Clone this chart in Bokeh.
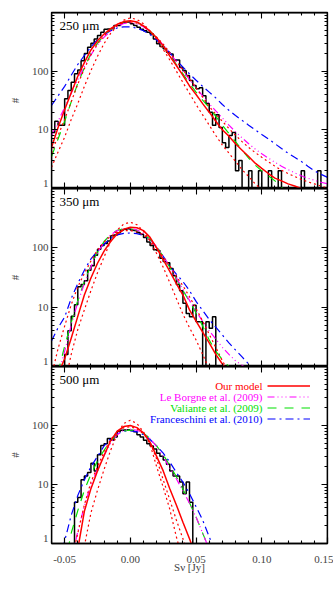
from bokeh.plotting import figure
from bokeh.models import (LinearAxis, LogAxis, FixedTicker, Range1d, Label,
                          Legend, LegendItem)
from bokeh.layouts import column
from bokeh.embed import file_html
from bokeh.resources import INLINE

N = float("nan")

# ---------------- data ----------------
x_major = [-0.05, 0.0, 0.05, 0.10, 0.15]
x_major_labels = ["-0.05", "0.00", "0.05", "0.10", "0.15"]
x_minor = [-0.06, -0.04, -0.03, -0.02, -0.01, 0.01, 0.02, 0.03, 0.04,
           0.06, 0.07, 0.08, 0.09, 0.11, 0.12, 0.13, 0.14]
x_title = "S\u03bd [Jy]"
y_major = [1, 10, 100, 1000]
y_minor = [2, 3, 4, 5, 6, 7, 8, 9, 20, 30, 40, 50, 60, 70, 80, 90,
           200, 300, 400, 500, 600, 700, 800, 900]
# label anchors on the y axis: the "1" label sits just above the panel edge
y_label_pos = [1.2, 10, 100]
y_label_txt = ["1", "10", "100"]
y_title = "#"

bin_width = 0.0025

# 250 micron histogram (first bin edge -0.06)
hist_250_start = -0.06
hist_250 = [9, 14, 12, 12, 34, 47, 65, 90, 105, 150, 200, 255, 300, 355, 405, 460,
            520, 525, 530, 600, 600, 665, 680, 690, 640, 600, 560, 520, 490, 460,
            430, 355, 292, 263, 240, 210, 196, 155, 155, 117, 102, 84, 69, 57, 50,
            52, 38, 28, 20, 12, 18, 11, 6, 5, 8, 9, 2, 3, 1, 1, 2, 1, 1, 2, 1, 1,
            2, 1, 1, 2, 1, 1, 1, 1, 1, 1, 2, 1, 1, 1, 1, 2, 1, 1]
# 350 micron histogram (first bin edge -0.055)
hist_350_start = -0.055
hist_350 = [1, 1, 1.6, 4, 7, 11, 22, 24, 28, 42, 50, 75, 95, 110, 118, 130, 160, 165,
            180, 200, 205, 210, 200, 195, 180, 170, 150, 125, 110, 93, 90, 67, 59,
            56, 45, 34, 24, 19, 11.6, 7.8, 6.9, 10.8, 5.7, 5.7, 0.5, 5.7, 4.4, 6.9, 0.5]
# 500 micron histogram (first bin edge -0.045)
hist_500_start = -0.045
hist_500 = [0.5, 5, 6, 12, 14, 16, 23, 17, 32, 46, 49, 60, 56, 64, 80, 83, 84, 85,
            82, 78, 70, 64, 56, 49, 45, 40, 34, 30, 26, 22, 17, 14, 14, 11, 7, 11,
            5, 0.5]

# sampling positions of the model curves [Jy]
s_grid = [-0.060, -0.055, -0.050, -0.045, -0.040, -0.035, -0.030, -0.025, -0.020,
          -0.015, -0.010, -0.005, 0.000, 0.005, 0.010, 0.015, 0.020, 0.025, 0.030,
          0.035, 0.040, 0.045, 0.050, 0.055, 0.060, 0.065, 0.070, 0.075, 0.080,
          0.085, 0.090, 0.095, 0.100, 0.105, 0.110, 0.115, 0.120, 0.125, 0.130,
          0.135, 0.140, 0.145, 0.150]

# 250 micron curves
model_250 = [5, 11, 22, 43, 82, 140, 230, 330, 430, 530, 630, 700, 725, 690, 590, 480,
             370, 270, 180, 125, 85, 56, 40, 28, 20, 14, 10, 7.8, 5.8, 4.5, 3.5, 2.7,
             2.2, 1.8, 1.5, 1.35, 1.2, 1.1, 1.0, 0.9, 0.85, N, N]
model_lo_250 = [2.3, 4.2, 7.5, 15, 28, 55, 102, 180, 295, 440, 600, 740, 810, 760, 640,
                480, 350, 235, 155, 100, 64, 42, 27, 18, 12, 8, 5.5, 4.0, 2.9, 2.1, 1.6,
                1.2, 0.95, 0.75, N, N, N, N, N, N, N, N, N]
model_hi_250 = [4, 8, 15, 30, 60, 110, 190, 290, 400, 510, 610, 670, 690, 660, 580, 480,
                380, 290, 205, 148, 105, 75, 52, 36, 25, 18.5, 14, 10.5, 8.1, 6.3, 5.0,
                4.1, 3.4, 2.85, 2.4, 2.05, 1.8, 1.6, 1.43, 1.3, 1.2, 1.1, 1.03]
leborgne_250 = [8, 14, 24, 42, 72, 120, 190, 280, 380, 480, 580, 650, 670, 640, 570,
                470, 370, 280, 205, 145, 102, 72, 52, 38, 28, 21, 16, 12, 9.3, 7.3, 5.8,
                4.7, 3.9, 3.3, 2.8, 2.4, 2.1, 1.85, 1.65, 1.5, 1.38, 1.28, 1.2]
valiante_250 = [3.5, 7, 14, 30, 62, 115, 200, 300, 410, 520, 620, 690, 710, 680, 590,
                480, 370, 270, 190, 130, 90, 62, 44, 32, 24, 17, 12, 8.7, 6.3, 4.5, 3.3,
                2.5, 2.0, 1.65, 1.35, 1.05, 0.85, N, N, N, N, N, N]
franceschini_250 = [26, 38, 55, 85, 130, 185, 260, 345, 420, 490, 545, 570, 570, 540,
                    490, 420, 340, 270, 205, 155, 117, 90, 70, 55, 44, 35, 27, 21.5,
                    17.5, 14.5, 12, 10, 8.3, 7, 5.8, 4.8, 4.0, 3.4, 2.9, 2.4, 2.0, 1.75,
                    1.55]

# 350 micron curves
model_350 = [0.4, 0.75, 1.35, 3.0, 7.0, 16, 31, 55, 88, 128, 172, 205, 222, 218, 195,
             150, 100, 63, 40, 25, 16, 9, 5.8, 3.8, 2.5, 1.6, 1.1, 0.8, N, N, N, N, N,
             N, N, N, N, N, N, N, N, N, N]
model_lo_350 = [N, N, 0.5, 1.6, 4.2, 9, 19, 38, 70, 130, 200, 252, 270, 245, 190, 130,
                80, 47, 26, 14, 7.6, 4.5, 2.8, 1.6, 0.9, 0.5, N, N, N, N, N, N, N, N, N,
                N, N, N, N, N, N, N, N]
model_hi_350 = [0.7, 2.0, 4.8, 11, 22, 37, 60, 92, 125, 158, 182, 194, 195, 185, 165,
                135, 100, 70, 50, 33, 23, 15, 9.5, 5.8, 3.5, 2.1, 1.25, 0.8, N, N, N, N,
                N, N, N, N, N, N, N, N, N, N, N]
leborgne_350 = [N, 0.7, 1.8, 5, 12, 25, 48, 82, 125, 165, 195, 210, 212, 200, 175, 140,
                105, 72, 48, 31, 20, 13, 8.5, 5.8, 4.0, 2.9, 2.1, 1.6, 1.25, 1.05, 0.9,
                N, N, N, N, N, N, N, N, N, N, N, N]
valiante_350 = [N, 0.8, 2.2, 5.5, 13, 27, 50, 85, 128, 168, 197, 210, 210, 198, 172,
                140, 103, 72, 47, 30, 19, 12.5, 8, 4.8, 2.8, 1.8, 1.3, 1.0, 0.8, N, N, N,
                N, N, N, N, N, N, N, N, N, N, N]
franceschini_350 = [2.7, 4.5, 6.8, 14, 25, 42, 65, 88, 115, 145, 165, 175, 178, 173,
                    162, 140, 100, 72, 49, 36, 27, 19, 12.5, 8.8, 6.2, 4.6, 3.4, 2.5,
                    1.9, 1.45, 1.1, 0.85, N, N, N, N, N, N, N, N, N, N, N]

# 500 micron curves
model_500 = [N, N, N, N, 0.8, 3.5, 8.5, 17, 31, 55, 80, 96, 100, 92, 75, 52, 30, 17,
             8.5, 4.5, 2.3, 1.2, 0.6, N, N, N, N, N, N, N, N, N, N, N, N, N, N, N, N,
             N, N, N, N]
model_lo_500 = [N, N, N, N, N, 0.9, 3.3, 8, 18, 38, 72, 108, 123, 108, 78, 48, 20, 9,
                3.8, 1.3, 0.5, N, N, N, N, N, N, N, N, N, N, N, N, N, N, N, N, N, N, N,
                N, N, N]
model_hi_500 = [N, N, N, 0.5, 1.5, 4.5, 11, 20, 36, 58, 78, 92, 95, 88, 72, 52, 27, 12,
                5.5, 2.5, 1.2, 0.6, N, N, N, N, N, N, N, N, N, N, N, N, N, N, N, N, N,
                N, N, N, N]
leborgne_500 = [N, N, N, 0.5, 1.6, 4.3, 10, 18, 31, 50, 70, 83, 86, 83, 75, 60, 44, 30,
                19, 12.5, 7.8, 4.8, 2.8, 1.5, 0.8, N, N, N, N, N, N, N, N, N, N, N, N,
                N, N, N, N, N, N]
valiante_500 = [N, N, 0.4, 1.5, 3.6, 8, 15, 25, 38, 55, 71, 81, 84, 82, 74, 60, 45, 32,
                21, 13.5, 8.3, 4.9, 2.8, 1.5, 0.8, N, N, N, N, N, N, N, N, N, N, N, N,
                N, N, N, N, N, N]
franceschini_500 = [N, 0.4, 1.1, 3, 6.5, 12, 20, 30, 45, 60, 72, 80, 82, 78, 70, 58,
                    45, 34, 24, 16, 11, 7, 4.2, 2.5, 1.3, 0.7, N, N, N, N, N, N, N, N,
                    N, N, N, N, N, N, N, N, N]

legend_labels = ["Our model", "Le Borgne et al. (2009)", "Valiante et al. (2009)",
                 "Franceschini et al. (2010)"]
panel_labels = ["250 \u03bcm", "350 \u03bcm", "500 \u03bcm"]

# ---------------- style ----------------
FONT = "Liberation Serif"
RED = "#ff0000"
MAGENTA = "#ff00ff"
GREEN = "#00e000"
BLUE = "#0000ff"
FRAME_W = 276
LEFT = 51
X0, X1 = -0.06, 0.15
Y0, Y1 = 1, 1000


def tick_style(ax, major_len, minor_len):
    ax.major_tick_in = major_len
    ax.major_tick_out = 0
    ax.minor_tick_in = minor_len
    ax.minor_tick_out = 0
    ax.axis_line_width = 1.3
    ax.major_tick_line_width = 1.2
    ax.minor_tick_line_width = 1.1
    ax.major_label_text_font = FONT
    ax.major_label_text_font_size = "11px"


def bare_ticks(p, cls, side, loc, major_pos, minor_pos):
    # unlabelled tick marks on a frame side (fixed location -> no extra space)
    for pos, length in ((major_pos, 6), (minor_pos, 3)):
        ax = cls(ticker=FixedTicker(ticks=[], minor_ticks=pos), fixed_location=loc)
        tick_style(ax, 0, length)
        p.add_layout(ax, side)


def make_panel(frame_h, top, bottom, hist_start, hist, curves, label, show_x):
    p = figure(frame_width=FRAME_W, frame_height=frame_h,
               x_range=Range1d(X0, X1), y_range=Range1d(Y0, Y1),
               y_axis_type="log", x_axis_location=None, y_axis_location=None,
               output_backend="svg", toolbar_location=None,
               min_border_left=LEFT, min_border_right=6,
               min_border_top=top, min_border_bottom=bottom)
    p.grid.visible = False
    p.outline_line_color = "black"
    p.outline_line_width = 1.3
    p.background_fill_color = "white"
    p.border_fill_color = "white"

    # left axis: labels only (tick marks are drawn by the bare axes)
    ly = LogAxis(ticker=FixedTicker(ticks=y_label_pos, minor_ticks=[]))
    tick_style(ly, 0, 0)
    ly.axis_line_color = None
    ly.major_tick_line_color = None
    ly.major_label_overrides = dict(zip(y_label_pos, y_label_txt))
    ly.major_label_standoff = 3
    ly.axis_label = y_title
    ly.axis_label_text_font = FONT
    ly.axis_label_text_font_style = "normal"
    ly.axis_label_text_font_size = "11px"
    ly.axis_label_standoff = 8
    p.add_layout(ly, "left")

    bare_ticks(p, LogAxis, "left", X0, y_major, y_minor)
    bare_ticks(p, LogAxis, "right", X1, y_major, y_minor)
    bare_ticks(p, LinearAxis, "above", Y1, x_major, x_minor)
    if show_x:
        bx = LinearAxis(ticker=FixedTicker(ticks=x_major, minor_ticks=x_minor))
        tick_style(bx, 6, 3)
        bx.major_label_overrides = dict(zip(x_major, x_major_labels))
        bx.major_label_standoff = 12
        bx.axis_label = x_title
        bx.axis_label_text_font = FONT
        bx.axis_label_text_font_style = "normal"
        bx.axis_label_text_font_size = "11px"
        bx.axis_label_standoff = -5
        p.add_layout(bx, "below")
    else:
        bare_ticks(p, LinearAxis, "below", Y0, x_major, x_minor)

    edges = [hist_start + i * bin_width for i in range(len(hist) + 1)]
    p.step(x=edges, y=list(hist) + [hist[-1]], mode="after",
           line_color="black", line_width=1.5)

    m, lo, hi, lb, va, fr = curves
    r_fr = p.line(s_grid, fr, line_color=BLUE, line_width=1.2, line_dash="8 4 2 4")
    r_va = p.line(s_grid, va, line_color=GREEN, line_width=1.2, line_dash="9 8")
    r_lb = p.line(s_grid, lb, line_color=MAGENTA, line_width=1.2,
                  line_dash="7 3 1 3 1 3 1 3")
    p.line(s_grid, lo, line_color=RED, line_width=1.2, line_dash="2 3")
    p.line(s_grid, hi, line_color=RED, line_width=1.2, line_dash="2 3")
    r_m = p.line(s_grid, m, line_color=RED, line_width=1.5)

    p.add_layout(Label(x=8, y=frame_h - 5, x_units="screen", y_units="screen",
                       text=label, text_font=FONT, text_font_size="13px",
                       text_baseline="top", text_align="left", text_color="black"))
    return p, (r_m, r_lb, r_va, r_fr)


p1, _ = make_panel(176, 12, 0, hist_250_start, hist_250,
                   (model_250, model_lo_250, model_hi_250, leborgne_250,
                    valiante_250, franceschini_250), panel_labels[0], False)
p2, _ = make_panel(178, 0, 0, hist_350_start, hist_350,
                   (model_350, model_lo_350, model_hi_350, leborgne_350,
                    valiante_350, franceschini_350), panel_labels[1], False)
p3, rs = make_panel(177, 0, 47, hist_500_start, hist_500,
                    (model_500, model_lo_500, model_hi_500, leborgne_500,
                     valiante_500, franceschini_500), panel_labels[2], True)

# legend: coloured text on the left, line samples on the right
colors = [RED, MAGENTA, GREEN, BLUE]
for i, (txt, col) in enumerate(zip(legend_labels, colors)):
    p3.add_layout(Label(x=211, y=158 - 11 * i, x_units="screen", y_units="screen",
                        text=txt, text_font=FONT, text_font_size="11px",
                        text_color=col, text_align="right", text_baseline="middle"))
leg = Legend(items=[LegendItem(label=" ", renderers=[r]) for r in rs],
             location=(216, 119), glyph_width=43, glyph_height=11, spacing=0,
             padding=0, margin=0, label_standoff=0, label_width=1,
             label_text_font_size="8px", border_line_alpha=0,
             background_fill_alpha=0)
p3.add_layout(leg)

layout = column(p1, p2, p3, spacing=0)
open("out.html", "w").write(file_html(layout, INLINE))
